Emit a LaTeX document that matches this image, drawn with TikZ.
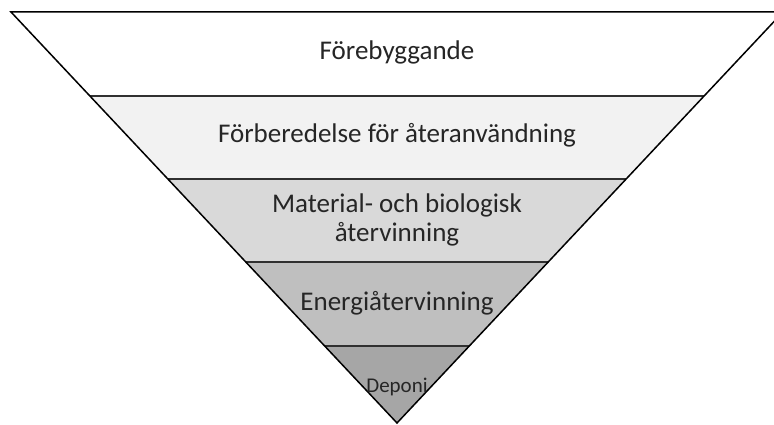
\documentclass[tikz,border=0pt]{standalone}
\usepackage{fontspec}
\setmainfont{Carlito}
\definecolor{txt}{HTML}{262626}
\definecolor{bandA}{HTML}{FFFFFF}
\definecolor{bandB}{HTML}{F2F2F2}
\definecolor{bandC}{HTML}{D9D9D9}
\definecolor{bandD}{HTML}{BFBFBF}
\definecolor{bandE}{HTML}{A6A6A6}
\definecolor{sep}{HTML}{303030}
\tikzset{
  lbl/.style={text=txt, font=\fontsize{27}{29}\selectfont, align=center, inner sep=0pt},
  small/.style={text=txt, font=\fontsize{21}{24}\selectfont, inner sep=0pt},
  sepline/.style={draw=sep, line width=1.3pt},
  edge/.style={draw=black, line width=1.5pt}
}
\begin{document}
\begin{tikzpicture}[x=1pt,y=1pt]
\useasboundingbox (0,0) rectangle (774,425);
\clip (0,0) rectangle (774,425);
% corner coordinates
\coordinate (L0) at (11,413);   \coordinate (R0) at (783,413);
\coordinate (L1) at (89.9,329); \coordinate (R1) at (704.1,329);
\coordinate (L2) at (167.8,246);\coordinate (R2) at (626.2,246);
\coordinate (L3) at (245.8,163);\coordinate (R3) at (548.3,163);
\coordinate (L4) at (324.6,79); \coordinate (R4) at (469.4,79);
\coordinate (A) at (397,2);
% bands
\fill[bandA] (L0) -- (R0) -- (R1) -- (L1) -- cycle;
\fill[bandB] (L1) -- (R1) -- (R2) -- (L2) -- cycle;
\fill[bandC] (L2) -- (R2) -- (R3) -- (L3) -- cycle;
\fill[bandD] (L3) -- (R3) -- (R4) -- (L4) -- cycle;
\fill[bandE] (L4) -- (R4) -- (A) -- cycle;
% separators
\draw[sepline] (L1) -- (R1);
\draw[sepline] (L2) -- (R2);
\draw[sepline] (L3) -- (R3);
\draw[sepline] (L4) -- (R4);
% outline
\draw[edge, line join=miter] (R0) -- (L0) -- (A) -- cycle;
% labels
\node[lbl] (t1) at (397,373) {Förebyggande};
\node[lbl] (t2) at (397,290) {Förberedelse för återanvändning};
\node[lbl] (t3) at (397,205) {Material- och biologisk\\återvinning};
\node[lbl] (t4) at (397,122) {Energiåtervinning};
\node[small] (t5) at (397,38) {Deponi};
\end{tikzpicture}
\end{document}
